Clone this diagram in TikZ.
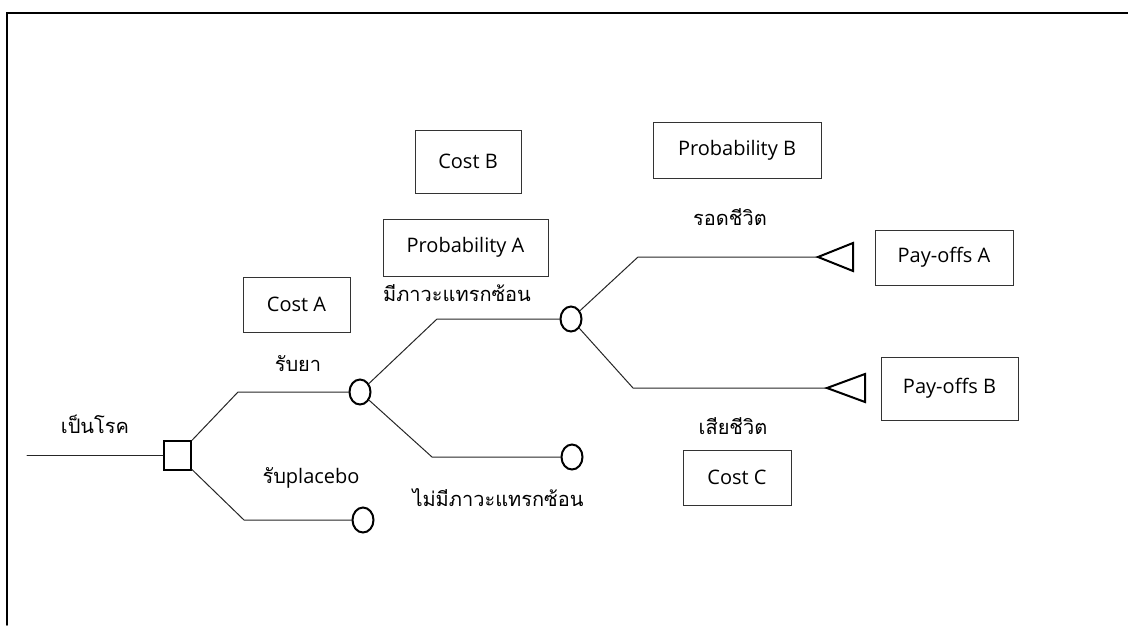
\documentclass[tikz,border=0pt]{standalone}
\usepackage{fontspec}
\setmainfont{Open Sans}
\newfontfamily\thaifont[Script=Thai]{Loma}
\usetikzlibrary{shapes.geometric}
\tikzset{
  box/.style={draw=black!80, line width=1pt, inner sep=0pt},
  chance/.style={draw, ellipse, line width=2pt, minimum width=21pt, minimum height=25pt, inner sep=0pt},
  decision/.style={draw, rectangle, line width=2pt, minimum width=27pt, minimum height=29pt, inner sep=0pt},
  branch/.style={line width=1pt, black!85},
  payoff/.style={line width=2pt, line join=miter},
  lab/.style={font=\thaifont\fontsize{20}{24}\selectfont}
}
\begin{document}
\begin{tikzpicture}[x=1pt, y=-1pt, font=\fontsize{20}{24}\selectfont, line cap=round]
	\useasboundingbox (0,0) rectangle (1128,625);
	\draw[line width=1.5pt] (1128,13) -- (7,13) -- (7,625);
	% tree
	\coordinate (s) at (27,455.5);
	\node[decision] (d) at (177.5,455.5) {};
	\node[chance] (c1) at (360,392) {};
	\node[chance] (c2) at (363,520) {};
	\node[chance] (c3) at (571,319) {};
	\node[chance] (c4) at (572,457) {};
	\coordinate (b1) at (238,392);
	\coordinate (b2) at (244,520);
	\coordinate (b3) at (437,319);
	\coordinate (b4) at (432,457);
	\coordinate (b5) at (638,257);
	\coordinate (b6) at (633,388);
	\coordinate (ta) at (818,257);
	\coordinate (tb) at (827,388);
	\draw[branch] (s) -- (d);
	\draw[branch] (d) -- (b1) -- (c1);
	\draw[branch] (d) -- (b2) -- (c2);
	\draw[branch] (c1) -- (b3) -- (c3);
	\draw[branch] (c1) -- (b4) -- (c4);
	\draw[branch] (c3) -- (b5) -- (ta);
	\draw[branch] (c3) -- (b6) -- (tb);
	\draw[payoff] (ta) -- ++(35,-14) -- ++(0,28) -- cycle;
	\draw[payoff] (tb) -- ++(38,-14) -- ++(0,28) -- cycle;
	% labels
	\node[lab] (l1) at (95,424) {เป็นโรค};
	\node[lab] (l2) at (298,364) {รับยา};
	\node[lab] (l3) at (311,478) {รับ{\fontspec{Open Sans}placebo}};
	\node[lab] (l4) at (457,293) {มีภาวะแทรกซ้อน};
	\node[lab] (l5) at (498,498) {ไม่มีภาวะแทรกซ้อน};
	\node[lab] (l6) at (730,217) {รอดชีวิต};
	\node[lab] (l7) at (733,426) {เสียชีวิต};
	% boxes
	\node[box, minimum width=107pt, minimum height=55pt] (costA) at (296.5,304.5) {Cost A};
	\node[box, minimum width=106pt, minimum height=63pt] (costB) at (468,161.5) {Cost B};
	\node[box, minimum width=165pt, minimum height=57pt] (probA) at (465.5,247.5) {Probability A};
	\node[box, minimum width=168pt, minimum height=56pt] (probB) at (737,150) {Probability B};
	\node[box, minimum width=138pt, minimum height=55pt] (payA) at (944,257.5) {Pay-offs A};
	\node[box, minimum width=137pt, minimum height=63pt] (payB) at (949.5,388.5) {Pay-offs B};
	\node[box, minimum width=108pt, minimum height=55pt] (costC) at (737,477.5) {Cost C};
\end{tikzpicture}
\end{document}
